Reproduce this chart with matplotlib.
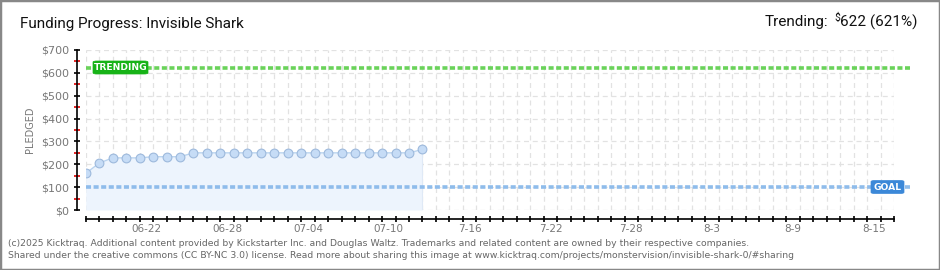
import matplotlib
matplotlib.use("Agg")
import matplotlib.pyplot as plt
import numpy as np
import pandas as pd
from matplotlib.patches import Rectangle, FancyBboxPatch

# ---- data ----
start_date = "2025-06-18"
end_date = "2025-08-17"
point_dates = pd.date_range(start_date, periods=26, freq="D")
pledged = [160, 205, 228, 228, 228, 233, 233, 233, 250, 250, 250, 250, 250,
           250, 250, 250, 250, 250, 250, 250, 250, 250, 250, 250, 250, 265]
goal = 100
trending = 622
trending_pct = 621
label_dates = ["2025-06-22", "2025-06-28", "2025-07-04", "2025-07-10", "2025-07-16",
               "2025-07-22", "2025-07-28", "2025-08-03", "2025-08-09", "2025-08-15"]
label_texts = ["06-22", "06-28", "07-04", "07-10", "7-16", "7-22", "7-28", "8-3", "8-9", "8-15"]
y_ticks = [0, 100, 200, 300, 400, 500, 600, 700]
y_labels = ["$0", "$100", "$200", "$300", "$400", "$500", "$600", "$700"]
title = "Funding Progress: Invisible Shark"
footer1 = ("(c)2025 Kicktraq. Additional content provided by Kickstarter Inc. and Douglas Waltz. "
           "Trademarks and related content are owned by their respective companies.")
footer2 = ("Shared under the creative commons (CC BY-NC 3.0) license. Read more about sharing this "
           "image at www.kicktraq.com/projects/monstervision/invisible-shark-0/#sharing")

t0 = pd.Timestamp(start_date)
x = np.array([(d - t0).days for d in point_dates], dtype=float)
xmax = (pd.Timestamp(end_date) - t0).days
lab_x = np.array([(pd.Timestamp(d) - t0).days + 0.5 for d in label_dates])

plt.rcParams['font.family'] = ['DejaVu Sans']
head_font = ["Roboto", "DejaVu Sans"]
W, H = 940, 270
fig = plt.figure(figsize=(W / 100, H / 100), dpi=100)

def fx(px):
    return px / W

def fy(py):
    return 1 - py / H

ax = fig.add_axes([fx(85.7), fy(210), fx(894) - fx(85.7), fy(50) - fy(210)])
ax.set_xlim(0, xmax)
ax.set_ylim(0, 700)

# grid
for d in range(0, xmax + 1):
    ax.axvline(d, color="#e2e2e2", lw=0.9, ls=(0, (4, 3)), zorder=0)
for v in y_ticks:
    ax.axhline(v, color="#e2e2e2", lw=0.9, ls=(0, (4, 3)), zorder=0)

# area + line + markers
ax.fill_between(x, 0, pledged, color="#edf4fd", zorder=1, lw=0)
ax.plot([x[-1], x[-1]], [0, pledged[-1]], color="#dfe9f6", lw=0.8, zorder=1)
ax.plot(x, pledged, color="#b9d3ef", lw=1, zorder=3)
ax.plot(x, pledged, ls="none", marker="o", ms=6.3, mfc="#c6dcf6", mec="#9db9dc",
        mew=0.8, zorder=4)

# trending & goal lines
ext = xmax + 1.2
ax.plot([0, ext], [trending, trending], color="#6ad35a", lw=2.6,
        ls=(0, (1.4, 0.7)), zorder=2, clip_on=False)
ax.plot([0, ext], [goal, goal], color="#8fbceb", lw=2.6,
        ls=(0, (1.4, 0.7)), zorder=2, clip_on=False)

# labels on lines
def tag(cx, cy, w, h, text, color):
    box = FancyBboxPatch((fx(cx - w / 2), fy(cy + h / 2)), fx(w), fy(0) - fy(h),
                         boxstyle="round,pad=0,rounding_size=0.004",
                         transform=fig.transFigure, facecolor=color,
                         edgecolor=color, lw=0.5, zorder=5)
    fig.patches.append(box)
    fig.text(fx(cx), fy(cy), text, color="white", fontsize=6.6, ha="center",
             va="center", fontweight="bold", zorder=6)

tag(120.5, 67.5, 55, 13, "TRENDING", "#17b317")
tag(887.5, 187, 33, 13, "GOAL", "#3b88d8")

# axes styling
for s in ["top", "right"]:
    ax.spines[s].set_visible(False)
ax.spines["left"].set_position(("outward", 6.5))
ax.spines["bottom"].set_position(("outward", 6.5))
ax.spines["left"].set_color("black")
ax.spines["bottom"].set_color("black")
ax.spines["left"].set_linewidth(1.2)
ax.spines["bottom"].set_linewidth(1.2)

ax.set_yticks(y_ticks)
ax.set_yticklabels([s.replace("$", r"\$") for s in y_labels])
ax.set_yticks(np.arange(50, 700, 100), minor=True)
ax.tick_params(axis="y", which="major", direction="inout", length=5, width=1.2,
               color="black", labelsize=8, labelcolor="#777777", pad=3)
ax.tick_params(axis="y", which="minor", direction="inout", length=4, width=1.2,
               color="#e00000")

ax.set_xticks(np.arange(0, xmax + 1))
ax.set_xticklabels([])
ax.tick_params(axis="x", which="major", direction="inout", length=5, width=1.2,
               color="black")
ax.set_xticks(lab_x, minor=True)
ax.set_xticklabels(label_texts, minor=True)
ax.tick_params(axis="x", which="minor", length=0, labelsize=7.5,
               labelcolor="#777777", pad=3.5)

fig.text(fx(30), fy(130), "PLEDGED", rotation=90, fontsize=7, color="#777777",
         ha="center", va="center")

# title texts
fig.text(fx(20), fy(24), title, fontsize=11, color="#111111", va="center",
         ha="left", family=head_font)
fig.canvas.draw()
r = fig.canvas.get_renderer()
t3 = fig.text(fx(918), fy(22), f"{trending} ({trending_pct}%)", fontsize=11,
              color="#111111", va="center", ha="right", family=head_font)
bb = t3.get_window_extent(r)
t2 = fig.text(bb.x0 / W - fx(0.5), fy(18), r"\$", fontsize=7.5, color="#111111",
              va="center", ha="right", family=head_font)
bb2 = t2.get_window_extent(r)
fig.text(bb2.x0 / W - fx(6), fy(22), "Trending:", fontsize=11,
         color="#111111", va="center", ha="right", family=head_font)

fig.text(fx(8), fy(243), footer1, fontsize=6.7, color="#666666", va="center")
fig.text(fx(8), fy(256), footer2, fontsize=6.7, color="#666666", va="center")

fig.patches.append(Rectangle((0, 0), 1, 1, transform=fig.transFigure, fill=False,
                             edgecolor="#888888", lw=2.5))

fig.savefig("out.png", dpi=100)
